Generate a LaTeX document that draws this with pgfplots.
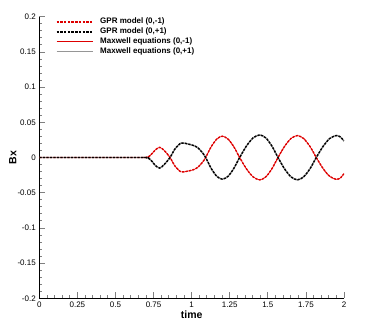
\documentclass[border=0pt]{standalone}
\usepackage{pgfplots}
\pgfplotsset{compat=1.18}
\usepackage{fontspec}
\setmainfont{Liberation Sans}
\definecolor{gprred}{RGB}{222,0,0}
\definecolor{mxgray}{RGB}{150,150,150}
\tikzset{leg/.style={anchor=west, inner sep=0pt, font=\bfseries\fontsize{8}{10}\selectfont}}
\pgfplotstableread{
t a
0 0
0.68 0
0.70 0
0.72 0.0015
0.74 0.0055
0.76 0.0105
0.79 0.0145
0.82 0.010
0.858 0
0.89 -0.012
0.93 -0.0204
0.97 -0.0195
1.01 -0.0175
1.04 -0.014
1.07 -0.007
1.092 0
1.128 0.0152
1.165 0.0262
1.201 0.0303
1.239 0.0262
1.277 0.0152
1.315 0
1.359 -0.0159
1.403 -0.0275
1.447 -0.0318
1.487 -0.0275
1.527 -0.0159
1.567 0
1.609 0.0156
1.652 0.0270
1.694 0.0312
1.735 0.0270
1.777 0.0156
1.818 0
1.862 -0.0155
1.906 -0.0268
1.950 -0.031
1.975 -0.0292
2.0 -0.023
}\redtab
\pgfplotstableread{
t a
0 0
0.68 0
0.70 0
0.72 -0.0015
0.74 -0.0055
0.76 -0.011
0.79 -0.015
0.82 -0.010
0.858 0
0.89 0.012
0.93 0.0205
0.97 0.0195
1.01 0.0172
1.04 0.014
1.07 0.007
1.092 0
1.128 -0.0154
1.165 -0.0267
1.201 -0.0308
1.239 -0.0267
1.277 -0.0154
1.315 0
1.359 0.0161
1.403 0.0278
1.447 0.0321
1.487 0.0278
1.527 0.0161
1.567 0
1.609 -0.0159
1.652 -0.0275
1.694 -0.0318
1.735 -0.0275
1.777 -0.0159
1.818 0
1.862 0.0156
1.906 0.0270
1.950 0.0312
1.975 0.0293
2.0 0.0235
}\blacktab
\begin{document}
\begin{tikzpicture}
\begin{axis}[
  scale only axis,
  width=304.7pt, height=281.6pt,
  xmin=0, xmax=2, ymin=-0.2, ymax=0.2,
  axis x line*=bottom, axis y line*=left,
  axis line style={line width=1pt},
  tick align=inside,
  major tick length=6pt, minor tick length=3pt,
  every tick/.append style={line width=0.8pt},
  xtick={0,0.25,0.5,0.75,1,1.25,1.5,1.75,2},
  xticklabels={0,0.25,0.5,0.75,1,1.25,1.5,1.75,2},
  ytick={-0.2,-0.15,-0.1,-0.05,0,0.05,0.1,0.15,0.2},
  yticklabels={-0.2,-0.15,-0.1,-0.05,0,0.05,0.1,0.15,0.2},
  minor x tick num=4, minor y tick num=4,
  ticklabel style={font=\fontsize{8}{9}\selectfont},
  xlabel={\bfseries time}, ylabel={\bfseries Bx},
  label style={font=\fontsize{10.5}{12}\selectfont},
  xlabel style={at={(axis description cs:0.5,-0.059)}, anchor=center},
  ylabel style={at={(axis description cs:-0.087,0.5)}, anchor=center},
  gpr/.style={line width=1.4pt, dash pattern=on 2.2pt off 1.3pt, smooth, tension=0.45},
]
\addplot[forget plot, gprred, line width=0.6pt, smooth, tension=0.45] table[x=t,y=a] {\redtab};
\addplot[forget plot, mxgray, line width=1.4pt, smooth, tension=0.45] table[x=t,y=a] {\blacktab};
\addplot[forget plot, gprred, gpr] table[x=t,y=a] {\redtab};
\addplot[forget plot, black, gpr] table[x=t,y=a] {\blacktab};
% legend
\draw[gprred, line width=1.6pt, dash pattern=on 2.4pt off 1.3pt] (axis description cs:0.0571,0.9822) -- (axis description cs:0.1762,0.9822);
\node[leg] at (axis description cs:0.1992,0.9822) {GPR model (0,-1)};
\draw[black, line width=1.6pt, dash pattern=on 2.4pt off 1.3pt] (axis description cs:0.0571,0.9467) -- (axis description cs:0.1762,0.9467);
\node[leg] at (axis description cs:0.1992,0.9467) {GPR model (0,+1)};
\draw[gprred, line width=0.7pt] (axis description cs:0.0571,0.9112) -- (axis description cs:0.1762,0.9112);
\node[leg] at (axis description cs:0.1992,0.9112) {Maxwell equations (0,-1)};
\draw[mxgray, line width=1.5pt] (axis description cs:0.0571,0.8757) -- (axis description cs:0.1762,0.8757);
\node[leg] at (axis description cs:0.1992,0.8757) {Maxwell equations (0,+1)};
\end{axis}
\path ([xshift=-39.3pt,yshift=-28.7pt]current axis.south west) rectangle ([xshift=24pt,yshift=16.7pt]current axis.north east);
\end{tikzpicture}
\end{document}
